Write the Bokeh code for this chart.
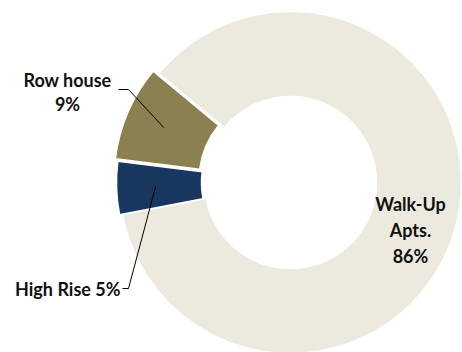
import math
from bokeh.plotting import figure
from bokeh.embed import file_html
from bokeh.resources import INLINE
from bokeh.models import ColumnDataSource
from bokeh.core.properties import value

# ---- data ----
categories = ["Walk-Up Apts.", "Row house", "High Rise"]
shares = [86, 9, 5]
colors = ["#ECEADF", "#8B8150", "#17375E"]
label_lines = [["Walk-Up", "Apts.", "86%"], ["Row house", "9%"], ["High Rise 5%"]]

W, H = 462, 352
CX, CY = 290, 170
R_OUT, R_IN = 171, 86
explode = [0, 6, 3]

# angles: Row house starts at 140.4 deg and slices run counter-clockwise Row -> High -> Walk-Up
order = [1, 2, 0]
start = 140.4
angles = {}
a = start
for i in order:
    span = shares[i] / sum(shares) * 360.0
    angles[i] = (a, a + span)
    a += span

xs, ys, sa, ea, cols = [], [], [], [], []
for i in range(len(categories)):
    s, e = angles[i]
    mid = math.radians((s + e) / 2)
    xs.append(CX + explode[i] * math.cos(mid))
    ys.append(CY + explode[i] * math.sin(mid))
    sa.append(s)
    ea.append(e)
    cols.append(colors[i])

src = ColumnDataSource(dict(x=xs, y=ys, start=sa, end=ea, color=cols, name=categories))

p = figure(width=W, height=H, x_range=(0, W), y_range=(0, H),
           output_backend="svg", toolbar_location=None,
           x_axis_location=None, y_axis_location=None, min_border=0)
p.grid.visible = False
p.outline_line_color = None
p.background_fill_color = "white"

p.annular_wedge(x="x", y="y", inner_radius=R_IN, outer_radius=R_OUT,
                start_angle="start", end_angle="end", start_angle_units="deg",
                end_angle_units="deg", fill_color="color", line_color="white",
                line_width=1.5, source=src)

font = value("Lato")

# leader lines to slice mid-angles
def anchor(i, r=132):
    s, e = angles[i]
    mid = math.radians((s + e) / 2)
    return xs[i] + r * math.cos(mid), ys[i] + r * math.sin(mid)

ax, ay = anchor(1)
p.line([118, 128, ax], [263, 263, ay], line_color="black", line_width=1)
ax, ay = anchor(2)
p.line([122, 128, ax], [64, 64, ay], line_color="black", line_width=1)

# labels
common = dict(text_font=font, text_font_style="bold", text_font_size="18px",
              text_baseline="middle", text_color="#111111")
p.text(x=[410, 410, 410], y=[149, 123, 97], text=label_lines[0],
       text_align="center", **common)
p.text(x=[67, 67], y=[273, 249], text=label_lines[1],
       text_align="center", **common)
p.text(x=[120], y=[64], text=label_lines[2],
       text_align="right", **common)

open("out.html", "w").write(file_html(p, INLINE))
